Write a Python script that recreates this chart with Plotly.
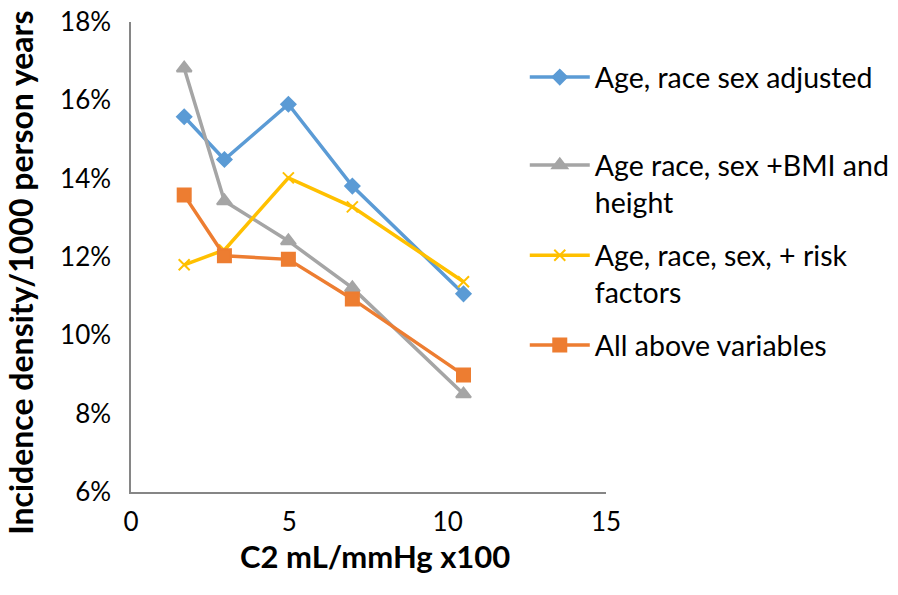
import plotly.graph_objects as go

x_vals = [1.68, 2.95, 4.97, 6.99, 10.5]
series_names = [
    "Age, race sex adjusted",
    "Age race, sex +BMI and<br>height",
    "Age, race, sex, + risk<br>factors",
    "All above variables",
]
blue_vals = [15.58, 14.49, 15.90, 13.81, 11.06]
gray_vals = [16.82, 13.43, 12.41, 11.21, 8.50]
yellow_vals = [11.80, 12.18, 14.02, 13.28, 11.37]
orange_vals = [13.58, 12.03, 11.94, 10.93, 8.99]

x_title = "C2 mL/mmHg x100"
y_title = "Incidence density/1000 person years"

FONT = "Lato, 'DejaVu Sans', sans-serif"

styles = [
    (blue_vals, "#5B9BD5", "diamond", 11, "legend"),
    (gray_vals, "#A5A5A5", "triangle-up", 13, "legend2"),
    (yellow_vals, "#FFC000", "x-thin-open", 11, "legend3"),
    (orange_vals, "#ED7D31", "square", 13, "legend4"),
]

fig = go.Figure()
for name, (vals, color, sym, size, leg) in zip(series_names, styles):
    fig.add_trace(go.Scatter(
        x=x_vals, y=vals, name=name, mode="lines+markers",
        line=dict(color=color, width=3.5),
        marker=dict(symbol=sym, size=size, color=color,
                    line=dict(color=color, width=2)),
        legend=leg, showlegend=True,
    ))

leg_common = dict(font=dict(family=FONT, size=28.5, color="#000000"),
                  bgcolor="rgba(0,0,0,0)", xanchor="left", yanchor="top",
                  valign="top", itemwidth=60, visible=True)
legend_y = [0.936, 0.749, 0.557, 0.366]
lx = 0.829
fig.update_layout(
    width=898, height=595,
    showlegend=True,
    margin=dict(l=131, r=292, t=22, b=103, autoexpand=False),
    paper_bgcolor="white", plot_bgcolor="white",
    font=dict(family=FONT, color="#000000"),
    legend=dict(x=lx, y=legend_y[0], **leg_common),
    legend2=dict(x=lx, y=legend_y[1], **leg_common),
    legend3=dict(x=lx, y=legend_y[2], **leg_common),
    legend4=dict(x=lx, y=legend_y[3], **leg_common),
    xaxis=dict(range=[0, 15], dtick=5, tick0=0, showgrid=False, zeroline=False,
               showline=True, linecolor="#868686", linewidth=1.5,
               ticks="", tickfont=dict(family=FONT, size=26),
               ticklabelstandoff=6, automargin=False, ticklabeloverflow="allow"),
    yaxis=dict(range=[6, 18], dtick=2, tick0=6, ticksuffix="%", showgrid=False,
               zeroline=False, showline=True, linecolor="#868686", linewidth=1.5,
               ticks="", tickfont=dict(family=FONT, size=26),
               ticklabelstandoff=13, automargin=False, ticklabeloverflow="allow"),
    annotations=[
        dict(text="<b>" + x_title + "</b>", xref="paper", yref="paper",
             x=0.514, y=-0.136, xanchor="center", yanchor="middle",
             showarrow=False, font=dict(family=FONT, size=31)),
        dict(text="<b>" + y_title + "</b>", xref="paper", yref="paper",
             x=-0.232, y=0.466, xanchor="center", yanchor="middle",
             textangle=-90, showarrow=False, font=dict(family=FONT, size=32)),
    ],
)

fig.write_html("out.html", config={"displayModeBar": False},
               post_script="document.body.style.margin='0';")
